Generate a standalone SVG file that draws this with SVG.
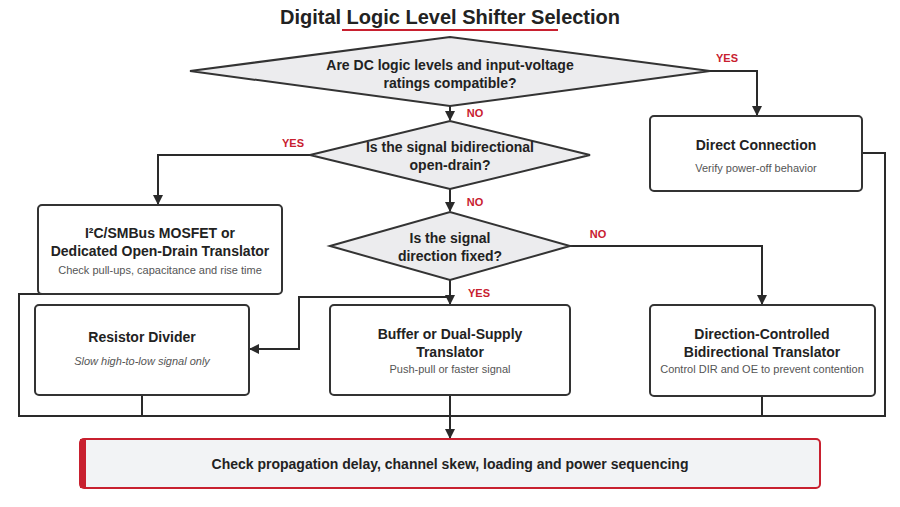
<svg xmlns="http://www.w3.org/2000/svg" width="900" height="507" viewBox="0 0 900 507">
<style>
text{font-family:"Liberation Sans",Arial,sans-serif;fill:#222;text-anchor:middle}
.t{font-weight:bold;font-size:14px}
.s{font-size:11px;fill:#555}
.l{font-weight:bold;font-size:11px;fill:#c8202f}
.d{fill:#ececee;stroke:#333;stroke-width:2}
.b{fill:#fff;stroke:#333;stroke-width:2}
.c path{fill:none;stroke:#2a2a2a;stroke-width:2}
</style>
<defs><marker id="a" markerWidth="10" markerHeight="10" refX="9" refY="5" orient="auto" markerUnits="userSpaceOnUse"><path d="M0,0L10,5L0,10z" fill="#2a2a2a"/></marker></defs>
<rect width="900" height="507" fill="#fff"/>
<text x="450" y="24" style="font-weight:bold;font-size:20px">Digital Logic Level Shifter Selection</text>
<line x1="342" y1="30" x2="558" y2="30" stroke="#c8202f" stroke-width="2"/>
<g class="c">
<path d="M450,106V120" marker-end="url(#a)"/>
<path d="M710,71H757V115" marker-end="url(#a)"/>
<path d="M450,189V211" marker-end="url(#a)"/>
<path d="M310,155H158V204" marker-end="url(#a)"/>
<path d="M570,246H762V304" marker-end="url(#a)"/>
<path d="M450,280V304" marker-end="url(#a)"/>
<path d="M450,297H299V349H250" marker-end="url(#a)"/>
<path d="M60,294H19V416H885V153H862"/>
<path d="M142,395V416"/>
<path d="M762,396V416"/>
<path d="M450,395V438" marker-end="url(#a)"/>
</g>
<g id="q1"><polygon class="d" points="190,71 450,37 710,71 450,106"/><text class="t" x="450" y="70">Are DC logic levels and input-voltage</text><text class="t" x="450" y="88">ratings compatible?</text></g>
<g id="q2"><polygon class="d" points="310,155 450,121 590,155 450,189"/><text class="t" x="450" y="152">Is the signal bidirectional</text><text class="t" x="450" y="170">open-drain?</text></g>
<g id="q3"><polygon class="d" points="330,246 450,212 570,246 450,280"/><text class="t" x="450" y="243">Is the signal</text><text class="t" x="450" y="261">direction fixed?</text></g>
<text class="l" x="727" y="62">YES</text><text class="l" x="475" y="117">NO</text><text class="l" x="293" y="147">YES</text><text class="l" x="475" y="206">NO</text><text class="l" x="598" y="238">NO</text><text class="l" x="479" y="297">YES</text>
<g id="direct"><rect class="b" x="650" y="116" width="212" height="75" rx="4"/><text class="t" x="756" y="150">Direct Connection</text><text class="s" x="756" y="172">Verify power-off behavior</text></g>
<g id="i2c"><rect class="b" x="38" y="205" width="244" height="89" rx="4"/><text class="t" x="160" y="238">I²C/SMBus MOSFET or</text><text class="t" x="160" y="256">Dedicated Open-Drain Translator</text><text class="s" x="160" y="274">Check pull-ups, capacitance and rise time</text></g>
<g id="resistor"><rect class="b" x="35" y="305" width="214" height="90" rx="4"/><text class="t" x="142" y="342">Resistor Divider</text><text class="s" x="142" y="365" font-style="italic">Slow high-to-low signal only</text></g>
<g id="buffer"><rect class="b" x="330" y="305" width="240" height="90" rx="4"/><text class="t" x="450" y="339">Buffer or Dual-Supply</text><text class="t" x="450" y="357">Translator</text><text class="s" x="450" y="373">Push-pull or faster signal</text></g>
<g id="dir"><rect class="b" x="650" y="305" width="225" height="91" rx="4"/><text class="t" x="762" y="339">Direction-Controlled</text><text class="t" x="762" y="357">Bidirectional Translator</text><text class="s" x="762" y="373">Control DIR and OE to prevent contention</text></g>
<g id="final"><rect x="80" y="439" width="740" height="49" rx="4" fill="#f2f3f5" stroke="#c8202f" stroke-width="2"/><rect x="80" y="439" width="6" height="49" fill="#c8202f"/><text class="t" x="450" y="469">Check propagation delay, channel skew, loading and power sequencing</text></g>
</svg>
